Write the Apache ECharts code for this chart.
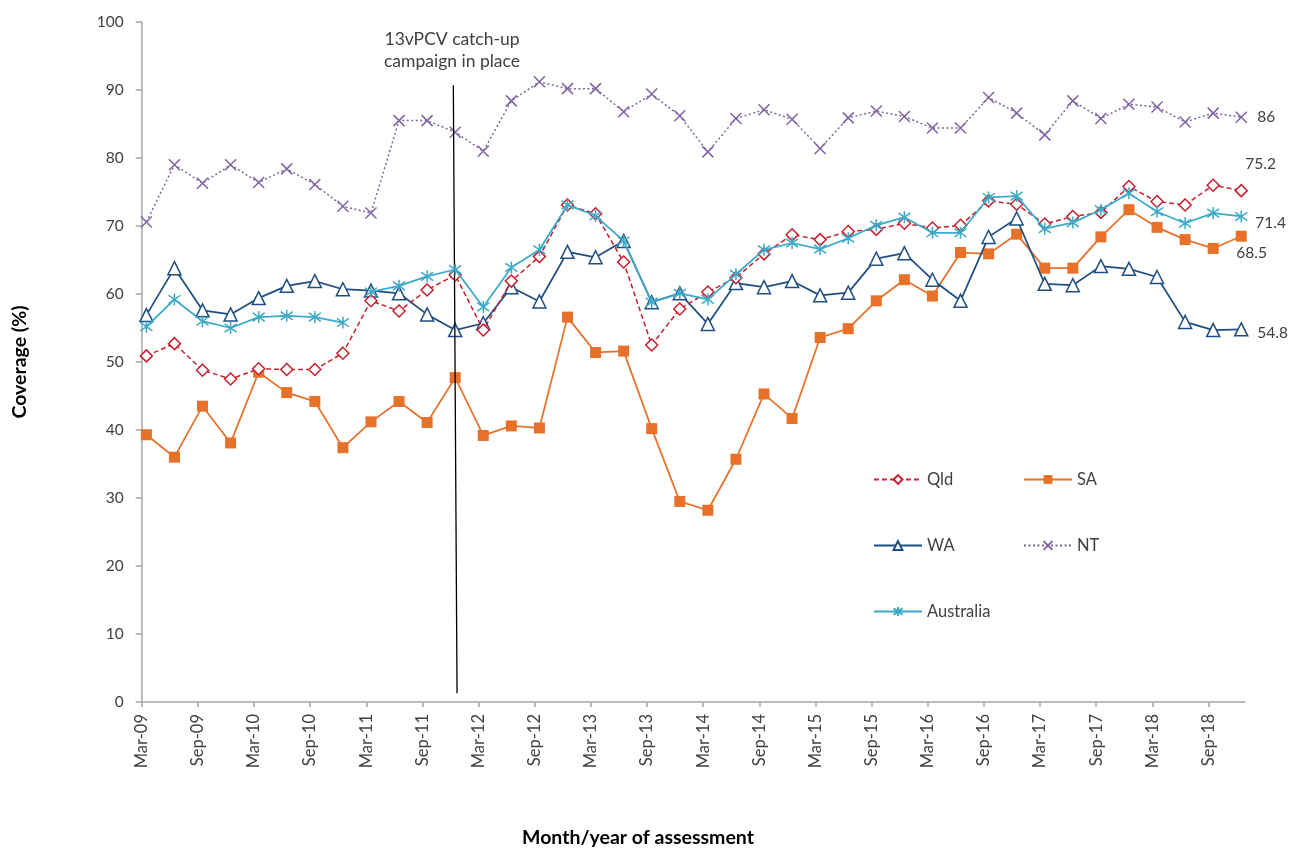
<!DOCTYPE html>
<html>
<head>
<meta charset="utf-8">
<script src="https://cdn.jsdelivr.net/npm/echarts@6/dist/echarts.min.js"></script>
<style>
html,body{margin:0;padding:0;background:#fff;}
#chart{width:1292px;height:848px;}
</style>
</head>
<body>
<div id="chart"></div>
<script>
// Quarterly assessment periods (Mar-09 .. Dec-18)
const quarters = ['Mar-09','Jun-09','Sep-09','Dec-09','Mar-10','Jun-10','Sep-10','Dec-10',
  'Mar-11','Jun-11','Sep-11','Dec-11','Mar-12','Jun-12','Sep-12','Dec-12',
  'Mar-13','Jun-13','Sep-13','Dec-13','Mar-14','Jun-14','Sep-14','Dec-14',
  'Mar-15','Jun-15','Sep-15','Dec-15','Mar-16','Jun-16','Sep-16','Dec-16',
  'Mar-17','Jun-17','Sep-17','Dec-17','Mar-18','Jun-18','Sep-18','Dec-18'];
// Axis tick labels (every 6 months)
const tickLabels = ['Mar-09','Sep-09','Mar-10','Sep-10','Mar-11','Sep-11','Mar-12','Sep-12','Mar-13','Sep-13',
  'Mar-14','Sep-14','Mar-15','Sep-15','Mar-16','Sep-16','Mar-17','Sep-17','Mar-18','Sep-18'];
const yTicks = [0,10,20,30,40,50,60,70,80,90,100];

const qld = [50.9,52.7,48.8,47.5,49.0,48.9,48.9,51.3,59.0,57.5,60.6,62.8,54.7,61.9,65.5,73.1,71.8,64.7,52.5,57.8,
  60.3,62.4,65.9,68.7,68.0,69.2,69.5,70.4,69.7,70.1,73.7,73.2,70.3,71.4,72.0,75.8,73.6,73.1,76.0,75.2];
const sa = [39.3,36.0,43.5,38.1,48.5,45.5,44.2,37.4,41.2,44.2,41.1,47.7,39.2,40.6,40.3,56.6,51.4,51.6,40.2,29.5,
  28.2,35.7,45.3,41.7,53.6,54.9,59.0,62.1,59.7,66.1,65.9,68.8,63.8,63.8,68.4,72.4,69.8,68.0,66.7,68.5];
const wa = [56.9,63.8,57.6,57.0,59.4,61.2,61.9,60.7,60.5,60.1,57.0,54.7,55.7,61.0,58.9,66.2,65.4,67.8,58.8,60.1,
  55.6,61.6,61.0,61.9,59.8,60.2,65.2,66.0,62.1,59.0,68.4,71.1,61.5,61.3,64.1,63.7,62.5,55.9,54.7,54.8];
const nt = [70.6,79.0,76.3,79.0,76.4,78.4,76.1,72.9,71.9,85.5,85.5,83.8,81.0,88.4,91.2,90.2,90.2,86.8,89.4,86.2,
  80.9,85.8,87.1,85.7,81.4,85.9,86.9,86.1,84.4,84.4,88.9,86.6,83.4,88.4,85.8,87.9,87.5,85.3,86.6,86];
const aus = [55.2,59.2,56.0,55.0,56.6,56.8,56.6,55.8,60.3,61.2,62.6,63.6,58.1,63.9,66.5,73.1,71.5,67.8,58.8,60.1,
  59.2,62.9,66.5,67.5,66.6,68.2,70.1,71.3,69.0,69.0,74.2,74.4,69.6,70.5,72.4,74.8,72.1,70.4,71.9,71.4];
// the Australia line is not joined between Dec-10 and Mar-11
const ausBreakAt = 8;

const annotationText = '13vPCV catch-up\ncampaign in place';
const xTitle = 'Month/year of assessment';
const yTitle = 'Coverage (%)';

// months since Mar-09 for each quarterly point (mid-month)
const xOf = i => i * 3 + 0.5;
const toData = arr => arr.map((v, i) => [xOf(i), v]);

const FONT = 'Lato';
const txt = '#404040';

const chart = echarts.init(document.getElementById('chart'), null, {renderer: 'canvas'});

function endLabel(dx, dy) {
  return {
    show: true, distance: 0, offset: [dx, dy], color: txt, fontSize: 15.5, fontFamily: FONT,
    formatter: p => String(p.value[1])
  };
}

const ausStyle = {
  type: 'line', name: 'Australia',
  symbol: 'path://M5,0L5,10M0,1.5L10,8.5M0,8.5L10,1.5', symbolSize: 12,
  lineStyle: {color: '#3AAAC8', width: 1.75},
  itemStyle: {color: '#3AAAC8', borderColor: '#3AAAC8', borderWidth: 1.5},
  z: 5
};
const ausData = toData(aus);

const series = [
  {
    name: 'Qld', type: 'line', data: toData(qld), symbol: 'diamond', symbolSize: 12,
    lineStyle: {color: '#C8202F', width: 1.5, type: [5, 3]},
    itemStyle: {color: '#fff', borderColor: '#C8202F', borderWidth: 1.5},
    endLabel: endLabel(4, -27), z: 4,
    markLine: {
      silent: true, symbol: 'none', animation: false,
      lineStyle: {color: '#000', width: 1.3, type: 'solid'},
      label: {show: false},
      data: [[{coord: [33.3, 90.7]}, {coord: [33.7, 1.3]}]]
    }
  },
  {
    name: 'SA', type: 'line', data: toData(sa), symbol: 'rect', symbolSize: 11,
    lineStyle: {color: '#E8712A', width: 1.75},
    itemStyle: {color: '#E8712A', borderColor: '#E8712A', borderWidth: 0},
    endLabel: endLabel(-5, 17), z: 2
  },
  {
    name: 'WA', type: 'line', data: toData(wa), symbol: 'triangle', symbolSize: 13,
    lineStyle: {color: '#1F4E82', width: 1.75},
    itemStyle: {color: '#fff', borderColor: '#1F4E82', borderWidth: 1.5},
    endLabel: endLabel(16, 4), z: 3
  },
  {
    name: 'NT', type: 'line', data: toData(nt),
    symbol: 'path://M0,0L10,10M10,0L0,10', symbolSize: 11,
    lineStyle: {color: '#8064A2', width: 1.5, type: [2, 2.5]},
    itemStyle: {color: '#8064A2', borderColor: '#8064A2', borderWidth: 1.5},
    endLabel: endLabel(16, 0), z: 3
  },
  Object.assign({}, ausStyle, {data: ausData.slice(0, ausBreakAt)}),
  Object.assign({}, ausStyle, {data: ausData.slice(ausBreakAt), endLabel: endLabel(14, 7)})
];

function legendItem(name, left, top) {
  return {
    data: [name], left: left, top: top, orient: 'horizontal',
    itemWidth: 48, itemHeight: 11, itemGap: 0, selectedMode: false,
    textStyle: {color: txt, fontSize: 16.5, fontFamily: FONT}
  };
}

const option = {
  animation: false,
  backgroundColor: '#fff',
  textStyle: {fontFamily: FONT},
  grid: {left: 141.7, right: 47, top: 22, bottom: 146, containLabel: false},
  legend: [
    legendItem('Qld', 868, 466),
    legendItem('SA', 1018, 466),
    legendItem('WA', 868, 532),
    legendItem('NT', 1018, 532),
    legendItem('Australia', 868, 598)
  ],
  xAxis: {
    type: 'value', min: 0, max: 117.9,
    axisLine: {show: true, lineStyle: {color: '#A6A6A6', width: 1.5}},
    axisTick: {show: true, length: 5, lineStyle: {color: '#A6A6A6', width: 1.5},
      customValues: tickLabels.map((_, i) => i * 6)},
    axisLabel: {
      rotate: 90, margin: 12, color: txt, fontSize: 16.5, fontFamily: FONT,
      customValues: tickLabels.map((_, i) => i * 6),
      formatter: v => tickLabels[Math.round(v / 6)] || ''
    },
    splitLine: {show: false}
  },
  yAxis: {
    type: 'value', min: 0, max: 100, interval: 10,
    name: yTitle, nameLocation: 'middle', nameGap: 112, nameRotate: 90,
    nameTextStyle: {color: '#000', fontWeight: 'bold', fontSize: 19.5, fontFamily: FONT},
    axisLine: {show: true, lineStyle: {color: '#A6A6A6', width: 1.5}},
    axisTick: {show: true, length: 6, lineStyle: {color: '#A6A6A6', width: 1.5}},
    axisLabel: {color: txt, fontSize: 15.5, fontFamily: FONT, margin: 18,
      formatter: v => yTicks.indexOf(v) >= 0 ? String(v) : ''},
    splitLine: {show: false}
  },
  graphic: [
    {
      type: 'text', x: 452, y: 28,
      style: {text: annotationText, fill: txt, font: '17.5px ' + FONT, textAlign: 'center', lineHeight: 22}
    },
    {
      type: 'text', x: 638, y: 838,
      style: {text: xTitle, fill: '#000', font: 'bold 19.5px ' + FONT, textAlign: 'center', textVerticalAlign: 'middle'}
    }
  ],
  series: series
};
chart.setOption(option);
</script>
</body>
</html>
